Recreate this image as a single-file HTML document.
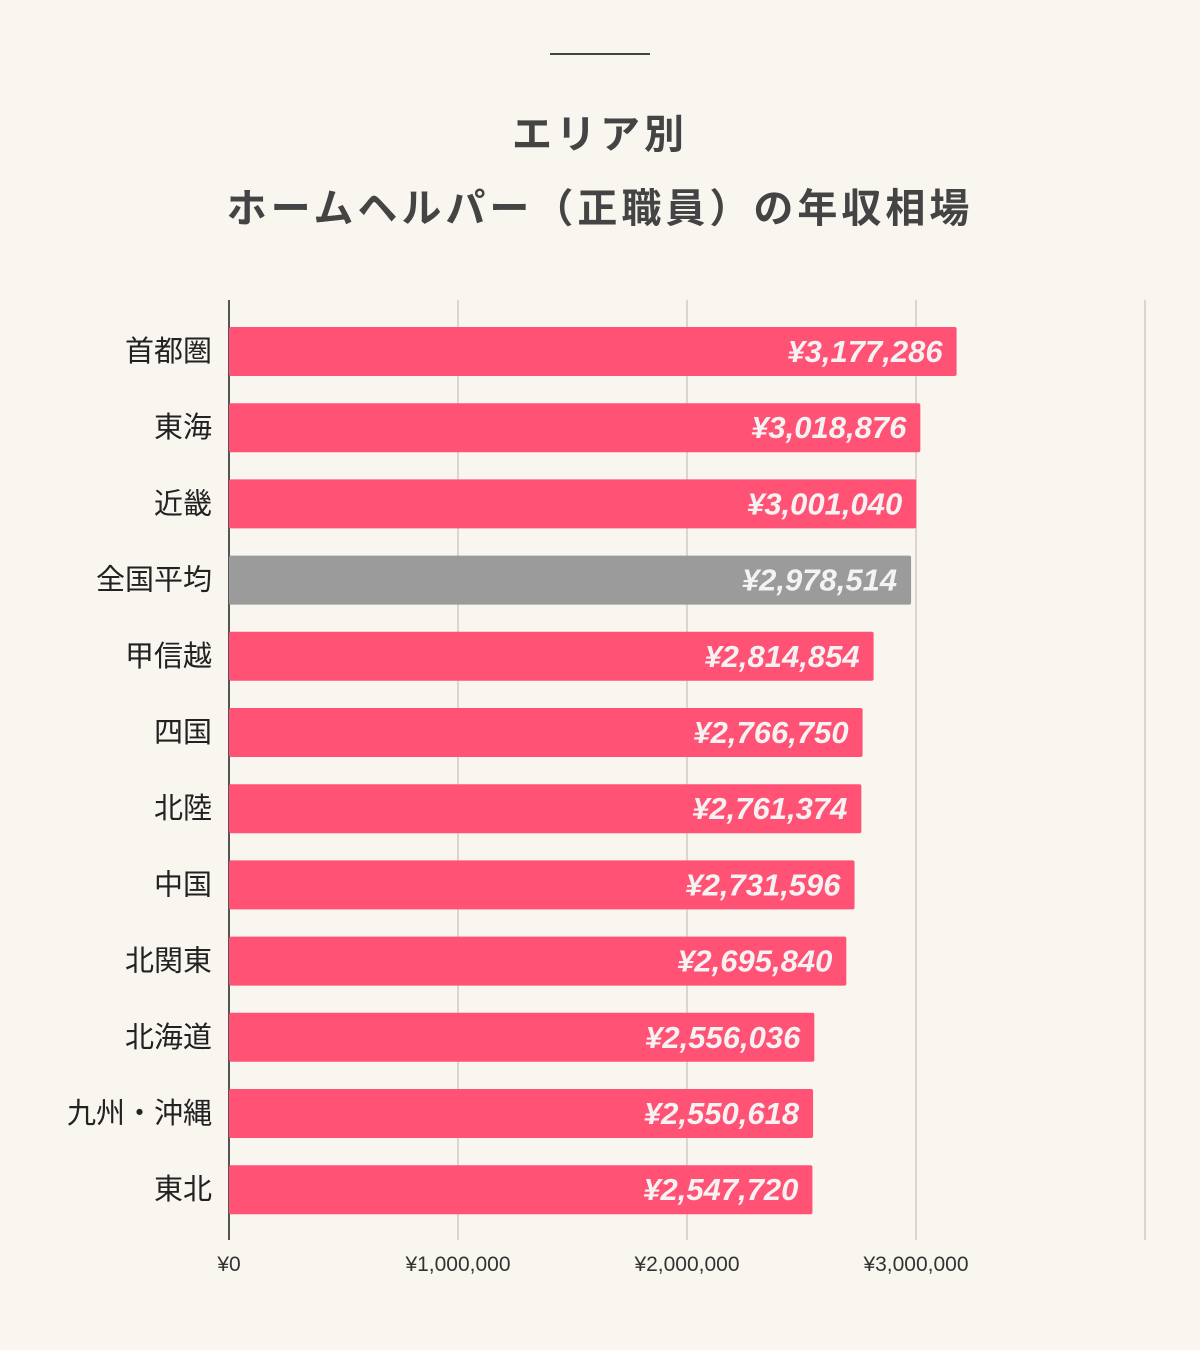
<!DOCTYPE html>
<html><head><meta charset="utf-8"><style>
body{margin:0;background:#f9f6f0;width:1200px;height:1350px;overflow:hidden;font-family:"Liberation Sans","Noto Sans CJK JP",sans-serif}
.t{position:absolute;left:0;width:1200px;text-align:center;color:#444;font-weight:bold;font-size:40px;letter-spacing:4px;font-family:"Noto Sans CJK JP",sans-serif}
</style></head><body>
<div style="position:absolute;left:550px;top:53px;width:100px;height:2px;background:#444"></div>
<div class="t" style="top:102px">エリア別</div>
<div class="t" style="top:176px">ホームヘルパー（正職員）の年収相場</div>
<svg id="chart" width="1200" height="1350" style="position:absolute;left:0;top:0"></svg>
<script>
const categories=["首都圏","東海","近畿","全国平均","甲信越","四国","北陸","中国","北関東","北海道","九州・沖縄","東北"];
const values=[3177286,3018876,3001040,2978514,2814854,2766750,2761374,2731596,2695840,2556036,2550618,2547720];
const valueLabels=["¥3,177,286","¥3,018,876","¥3,001,040","¥2,978,514","¥2,814,854","¥2,766,750","¥2,761,374","¥2,731,596","¥2,695,840","¥2,556,036","¥2,550,618","¥2,547,720"];
const ticks=[0,1000000,2000000,3000000,4000000];
const tickLabels=["¥0","¥1,000,000","¥2,000,000","¥3,000,000",""];
const highlight=["全国平均"];
const svg=document.getElementById('chart');const NS='http://www.w3.org/2000/svg';
const x0=229,pxPerUnit=229/1000000,top0=313,step=76.2,barH=49;
const X=v=>x0+v*pxPerUnit, Y=i=>top0+i*step;
function mk(t,a){const e=document.createElementNS(NS,t);for(const k in a)e.setAttribute(k,a[k]);svg.appendChild(e);return e;}
ticks.forEach((t,i)=>{
 const g=mk('line',{x1:X(t),x2:X(t),y1:300,y2:t===0?1240:1240,stroke:t===0?'#555':'#cfcac3','stroke-width':t===0?2:1.5});
 
 
 const l=mk('text',{x:X(t),y:1271,'text-anchor':'middle','font-size':21,fill:'#333'});l.textContent=tickLabels[i];
 
 
});
categories.forEach((c,i)=>{
 const y=Y(i)+14;
 const r=mk('rect',{x:x0,y:y,width:X(values[i])-x0,height:barH,rx:2,fill:highlight.includes(c)?'#9b9b9b':'#ff5274'});
 
 
 const v=mk('text',{x:X(values[i])-14,y:y+35,'text-anchor':'end','font-size':31,'font-weight':'bold','font-style':'italic',fill:'#f4f2f2'});v.textContent=valueLabels[i];
 
 
 const cl=mk('text',{x:212,y:y+34,'text-anchor':'end','font-size':29,fill:'#222','font-family':'"Noto Sans CJK JP",sans-serif'});cl.textContent=c;
 
 
});
</script>
</body></html>
